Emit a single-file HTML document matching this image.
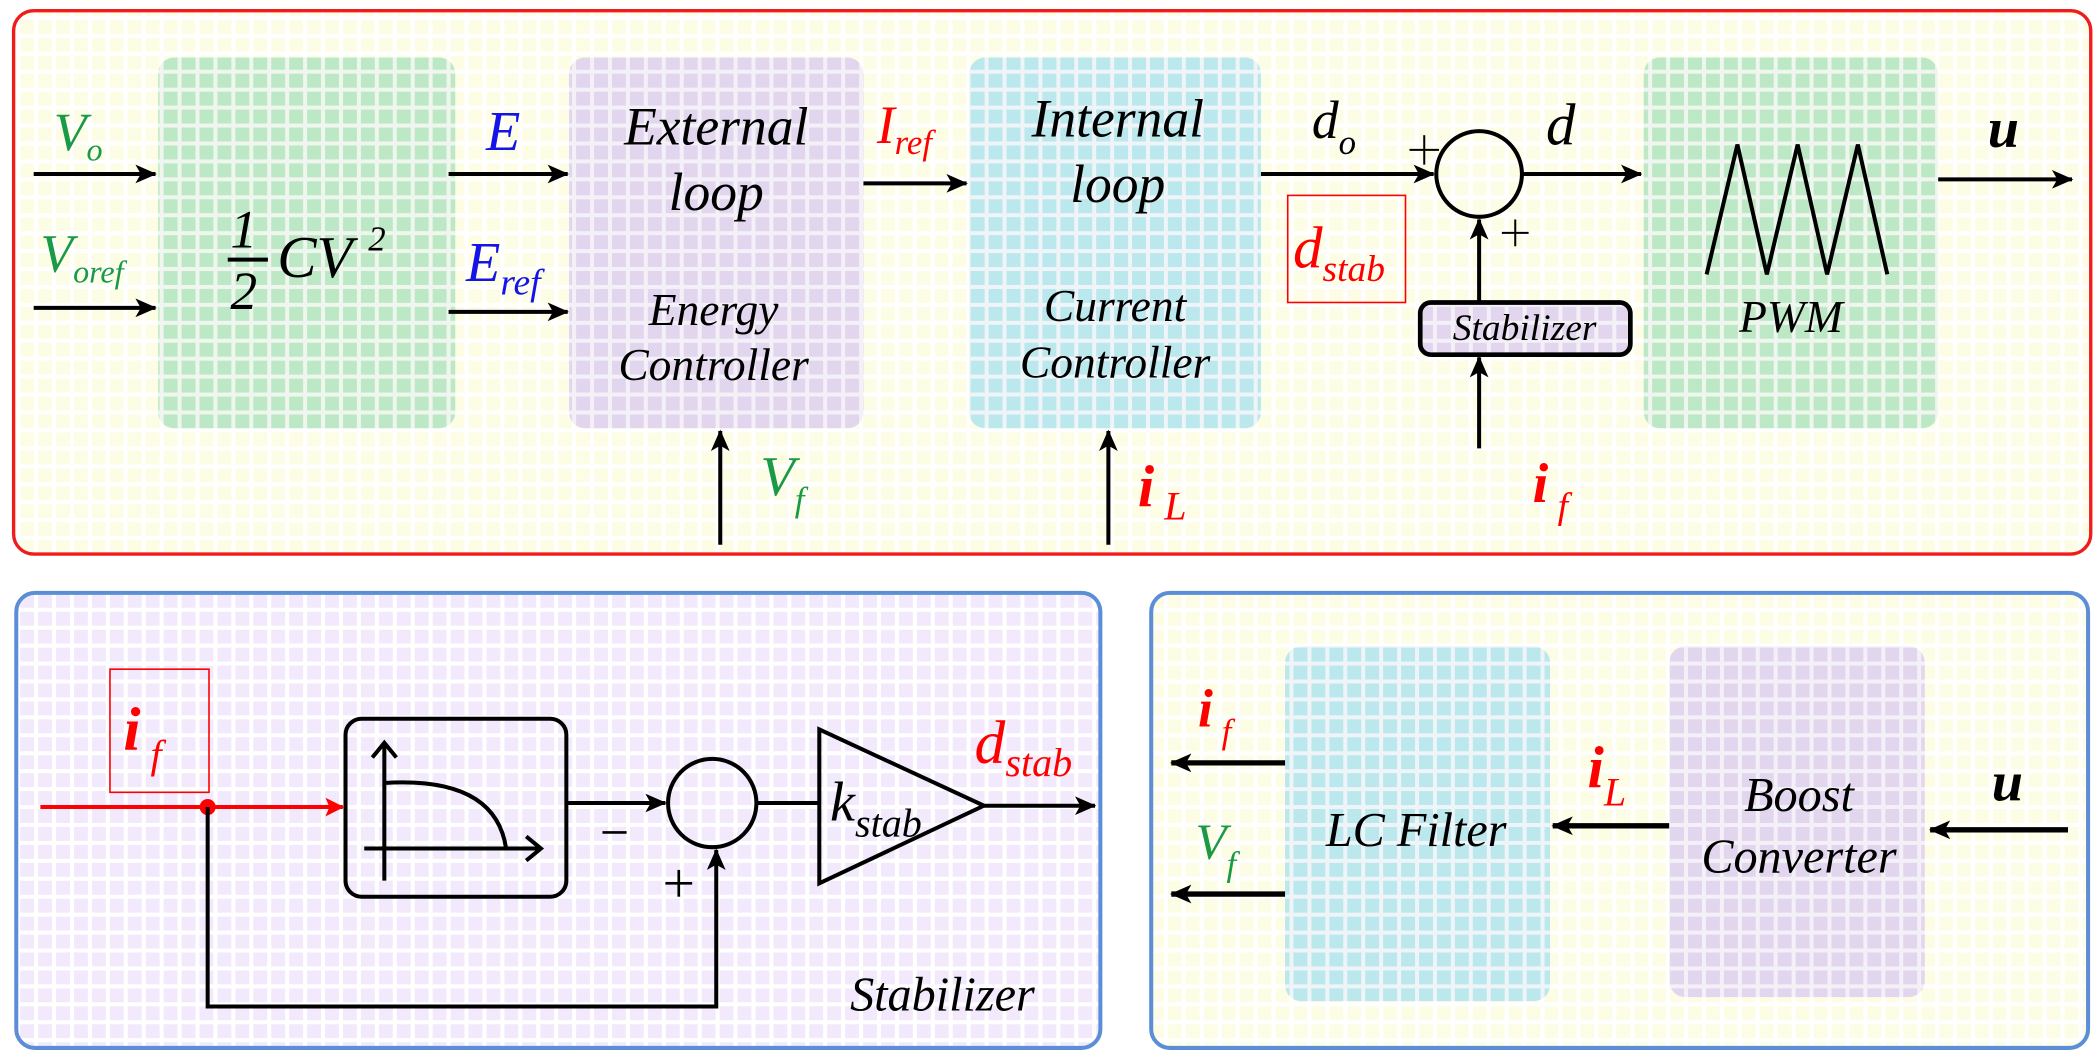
<!DOCTYPE html>
<html><head><meta charset="utf-8"><style>
html,body{margin:0;padding:0;background:#fff;}
svg{display:block;}
svg text{font-family:"Liberation Serif","Times New Roman",Times,"DejaVu Serif",serif;font-style:italic;}
</style></head><body>
<svg width="2099" height="1064" viewBox="0 0 1568 795" xmlns="http://www.w3.org/2000/svg">
<defs>
<pattern id="py" width="13.4" height="13.4" patternUnits="userSpaceOnUse"><rect width="13.4" height="13.4" fill="#ffffff"/><rect x="1.5" y="1.5" width="10.4" height="10.4" fill="#fdfde6"/></pattern>
<pattern id="pg" width="13.4" height="13.4" patternUnits="userSpaceOnUse"><rect width="13.4" height="13.4" fill="#eef6ee"/><rect x="1.5" y="1.5" width="10.4" height="10.4" fill="#bde8c6"/></pattern>
<pattern id="pp" width="13.4" height="13.4" patternUnits="userSpaceOnUse"><rect width="13.4" height="13.4" fill="#f4f0f8"/><rect x="1.5" y="1.5" width="10.4" height="10.4" fill="#e2d6ee"/></pattern>
<pattern id="pc" width="13.4" height="13.4" patternUnits="userSpaceOnUse"><rect width="13.4" height="13.4" fill="#eef4f8"/><rect x="1.5" y="1.5" width="10.4" height="10.4" fill="#bae8ec"/></pattern>
<pattern id="pl" width="13.4" height="13.4" patternUnits="userSpaceOnUse"><rect width="13.4" height="13.4" fill="#ffffff"/><rect x="1.5" y="1.5" width="10.4" height="10.4" fill="#f2eafc"/></pattern>
<marker id="ar" markerWidth="14" markerHeight="14" refX="13" refY="7" orient="auto" markerUnits="userSpaceOnUse"><path d="M0,0 L14,7 L0,14 L3,7 Z" fill="#f00"/></marker>
<marker id="ab" markerWidth="16" markerHeight="14" refX="15" refY="7" orient="auto" markerUnits="userSpaceOnUse"><path d="M0,0 L16,7 L0,14 L4,7 Z" fill="#000"/></marker>
</defs>
<rect width="1568" height="795" fill="#fff"/>
<rect x="10" y="8" width="1552" height="406" rx="15" fill="url(#py)" stroke="#ee1c1c" stroke-width="2.5"/>
<rect x="118" y="43" width="222" height="277" rx="12" fill="url(#pg)"/>
<rect x="425" y="43" width="220" height="277" rx="12" fill="url(#pp)"/>
<rect x="724" y="43" width="218" height="277" rx="12" fill="url(#pc)"/>
<rect x="1228" y="43" width="220" height="277" rx="12" fill="url(#pg)"/>
<g stroke="#000" stroke-width="3" fill="none">
<line x1="25" y1="130" x2="116" y2="130" marker-end="url(#ab)"/>
<line x1="25" y1="230" x2="116" y2="230" marker-end="url(#ab)"/>
<line x1="335" y1="130" x2="424" y2="130" marker-end="url(#ab)"/>
<line x1="335" y1="233" x2="424" y2="233" marker-end="url(#ab)"/>
<line x1="645" y1="137" x2="722" y2="137" marker-end="url(#ab)"/>
<line x1="942" y1="130" x2="1071" y2="130" marker-end="url(#ab)"/>
<circle cx="1105" cy="130" r="32"/>
<line x1="1137" y1="130" x2="1226" y2="130" marker-end="url(#ab)"/>
<line x1="1448" y1="134" x2="1548" y2="134" marker-end="url(#ab)"/>
<line x1="1105" y1="225" x2="1105" y2="164" marker-end="url(#ab)"/>
<line x1="1105" y1="335" x2="1105" y2="267" marker-end="url(#ab)"/>
<line x1="538" y1="407" x2="538" y2="322" marker-end="url(#ab)"/>
<line x1="828" y1="407" x2="828" y2="322" marker-end="url(#ab)"/>
<polyline points="1275,205 1298,108 1320,205 1343,108 1365,205 1388,108 1410,205"/>
</g>
<rect x="1061" y="226" width="157" height="39" rx="8" fill="url(#pp)" stroke="#000" stroke-width="3.5"/>
<text x="1139" y="254" font-size="28" text-anchor="middle">Stabilizer</text>
<line x1="1053" y1="112" x2="1075" y2="112" stroke="#000" stroke-width="1.5"/><line x1="1064" y1="101" x2="1064" y2="123" stroke="#000" stroke-width="1.5"/>
<line x1="1122" y1="174" x2="1142" y2="174" stroke="#000" stroke-width="1.5"/><line x1="1132" y1="164" x2="1132" y2="184" stroke="#000" stroke-width="1.5"/>
<text x="40" y="112" font-size="40" fill="#1a9a46">V<tspan font-size="24" dy="8">o</tspan></text>
<text x="30" y="203" font-size="40" fill="#1a9a46">V<tspan font-size="24" dy="8">oref</tspan></text>
<text x="363" y="112" font-size="42" fill="#1414e6">E</text>
<text x="348" y="210" font-size="42" fill="#1414e6">E<tspan font-size="28" dy="10">ref</tspan></text>
<text x="655" y="107" font-size="40" fill="#f00">I<tspan font-size="26" dy="8">ref</tspan></text>
<text x="172" y="185" font-size="40" font-style="normal">1</text>
<line x1="170" y1="194" x2="200" y2="194" stroke="#000" stroke-width="3"/>
<text x="172" y="231" font-size="40" font-style="normal">2</text>
<text x="207" y="207" font-size="44">CV</text><text x="275" y="187" font-size="26" font-style="normal">2</text>
<text x="535" y="108" font-size="40" text-anchor="middle">External</text>
<text x="535" y="157" font-size="40" text-anchor="middle">loop</text>
<text x="533" y="243" font-size="34" text-anchor="middle">Energy</text>
<text x="533" y="284" font-size="34" text-anchor="middle">Controller</text>
<text x="835" y="102" font-size="40" text-anchor="middle">Internal</text>
<text x="835" y="151" font-size="40" text-anchor="middle">loop</text>
<text x="833" y="240" font-size="34" text-anchor="middle">Current</text>
<text x="833" y="282" font-size="34" text-anchor="middle">Controller</text>
<text x="980" y="103" font-size="40">d<tspan font-size="26" dy="12">o</tspan></text>
<text x="1155" y="108" font-size="44">d</text>
<text x="1485" y="110" font-size="42" font-weight="bold">u</text>
<rect x="962" y="146" width="88" height="80" fill="none" stroke="#f00" stroke-width="1.2"/>
<text x="966" y="200" font-size="44" fill="#f00">d<tspan font-size="28" dy="10">stab</tspan></text>
<text x="1338" y="248" font-size="34" text-anchor="middle">PWM</text>
<text x="568" y="370" font-size="42" fill="#1a9a46">V<tspan font-size="26" dy="12">f</tspan></text>
<text x="850" y="378" font-size="44" fill="#f00" font-weight="bold">i<tspan font-size="30" font-weight="normal" dy="10"> L</tspan></text>
<text x="1145" y="375" font-size="42" fill="#f00" font-weight="bold">i<tspan font-size="28" font-weight="normal" dy="12"> f</tspan></text>
<rect x="12" y="443" width="810" height="340" rx="14" fill="url(#pl)" stroke="#5b8ed6" stroke-width="3"/>
<rect x="82" y="500" width="74" height="92" fill="none" stroke="#f00" stroke-width="1.2"/>
<text x="92" y="560" font-size="46" fill="#f00" font-weight="bold">i<tspan font-size="30" font-weight="normal" dy="14"> f</tspan></text>
<line x1="30" y1="603" x2="256" y2="603" stroke="#f00" stroke-width="3" marker-end="url(#ar)"/>
<circle cx="155" cy="603" r="6" fill="#f00"/>
<g stroke="#000" stroke-width="3" fill="none">
<rect x="258" y="537" width="165" height="133" rx="12"/>
<line x1="287" y1="658" x2="287" y2="555"/><polyline points="278,566 287,555 296,566"/>
<line x1="272" y1="634" x2="404" y2="634"/><polyline points="393,625 404,634 393,643"/>
<path d="M287,585 Q370,580 378,634"/>
<line x1="423" y1="600" x2="497" y2="600" marker-end="url(#ab)"/>
<circle cx="532" cy="600" r="33"/>
<line x1="565" y1="600" x2="612" y2="600"/>
<polygon points="612,545 612,660 735,602"/>
<line x1="735" y1="602" x2="818" y2="602" marker-end="url(#ab)"/>
<polyline points="155,603 155,752 535,752 535,635" marker-end="url(#ab)"/>
</g>
<line x1="450" y1="622" x2="468" y2="622" stroke="#000" stroke-width="2"/>
<line x1="497" y1="660" x2="517" y2="660" stroke="#000" stroke-width="2"/><line x1="507" y1="650" x2="507" y2="670" stroke="#000" stroke-width="2"/>
<text x="620" y="613" font-size="42">k<tspan font-size="30" dy="12">stab</tspan></text>
<text x="728" y="570" font-size="46" fill="#f00">d<tspan font-size="30" dy="10">stab</tspan></text>
<text x="635" y="755" font-size="36">Stabilizer</text>
<rect x="860" y="443" width="700" height="340" rx="14" fill="url(#py)" stroke="#5b8ed6" stroke-width="3"/>
<rect x="960" y="483" width="198" height="265" rx="12" fill="url(#pc)"/>
<rect x="1247" y="483" width="191" height="262" rx="12" fill="url(#pp)"/>
<g stroke="#000" stroke-width="4" fill="none">
<line x1="1545" y1="620" x2="1442" y2="620" marker-end="url(#ab)"/>
<line x1="1247" y1="617" x2="1160" y2="617" marker-end="url(#ab)"/>
<line x1="960" y1="570" x2="875" y2="570" marker-end="url(#ab)"/>
<line x1="960" y1="668" x2="875" y2="668" marker-end="url(#ab)"/>
</g>
<text x="1058" y="632" font-size="36" text-anchor="middle">LC Filter</text>
<text x="1344" y="606" font-size="36" text-anchor="middle">Boost</text>
<text x="1344" y="652" font-size="36" text-anchor="middle">Converter</text>
<text x="1488" y="598" font-size="42" font-weight="bold">u</text>
<text x="1186" y="588" font-size="44" fill="#f00" font-weight="bold">i<tspan font-size="30" font-weight="normal" dy="14">L</tspan></text>
<text x="895" y="543" font-size="40" fill="#f00" font-weight="bold">i<tspan font-size="26" font-weight="normal" dy="12"> f</tspan></text>
<text x="893" y="642" font-size="38" fill="#1a9a46">V<tspan font-size="26" dy="12">f</tspan></text>
</svg>
</body></html>
